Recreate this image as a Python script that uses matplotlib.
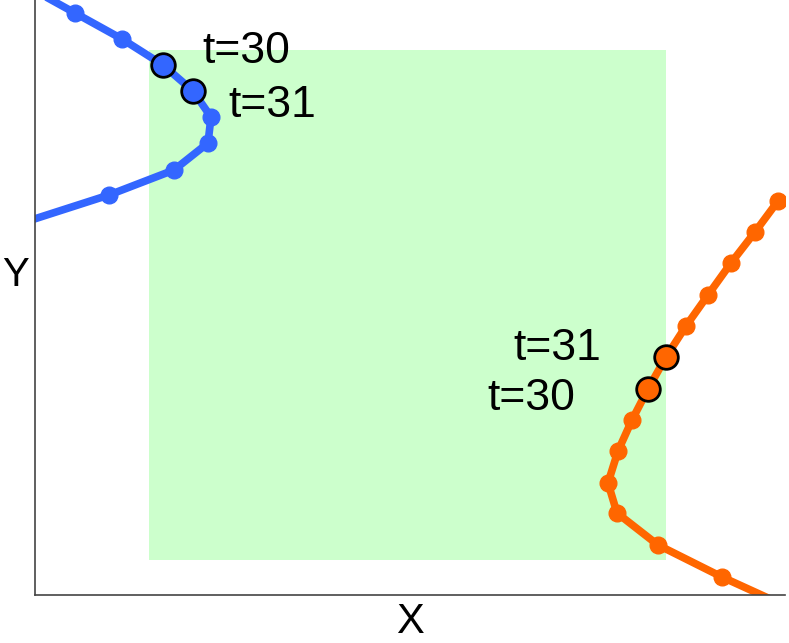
import numpy as np
import matplotlib.pyplot as plt

plt.rcParams['font.family'] = ['Liberation Sans', 'DejaVu Sans']

# trajectories (arbitrary units, x to the right, y up)
blue_x = [-7, 40, 87, 128, 158, 176, 173, 139, 74, -10]
blue_y = [608, 582, 556, 530, 504, 478, 452, 425, 400, 373]
orange_x = [743, 720, 696, 673, 651, 631, 613, 597, 583, 573, 582, 623, 687, 755]
orange_y = [394, 363, 332, 300, 269, 238, 206, 175, 144, 112, 82, 50, 18, -13]

# highlighted time steps: (index into the series, label)
blue_marks = [(3, 't=30'), (4, 't=31')]
orange_marks = [(6, 't=30'), (5, 't=31')]
blue_label_pos = [(167, 532), (193, 478)]
orange_label_pos = [(452, 185), (478, 235)]

# green region
rect_x = (114, 631)
rect_y = (35, 545)

blue = '#3366ff'
orange = '#ff6600'

fig = plt.figure(figsize=(7.89, 6.43), dpi=100)
ax = fig.add_axes([35 / 789, 48 / 643, 750 / 789, 595 / 643])

ax.fill_between(rect_x, rect_y[0], rect_y[1], color='#ccffcc', lw=0, zorder=0)

ax.plot(blue_x, blue_y, '-o', color=blue, lw=5.5, ms=12, zorder=2)
ax.plot(orange_x, orange_y, '-o', color=orange, lw=5.5, ms=12, zorder=2)

for (i, lab), (tx, ty) in zip(blue_marks, blue_label_pos):
    ax.plot(blue_x[i], blue_y[i], 'o', color=blue, ms=17, mec='black', mew=2, zorder=3)
    ax.text(tx, ty, lab, fontsize=32, ha='left', va='baseline')
for (i, lab), (tx, ty) in zip(orange_marks, orange_label_pos):
    ax.plot(orange_x[i], orange_y[i], 'o', color=orange, ms=17, mec='black', mew=2, zorder=3)
    ax.text(tx, ty, lab, fontsize=32, ha='left', va='baseline')

ax.set_xlim(0, 750)
ax.set_ylim(0, 595)
ax.set_xticks([])
ax.set_yticks([])
for s in ['top', 'right']:
    ax.spines[s].set_visible(False)
for s in ['left', 'bottom']:
    ax.spines[s].set_color('#444444')
    ax.spines[s].set_linewidth(1.2)

ax.set_xlabel('X', fontsize=30, labelpad=5)
ax.set_ylabel('Y', fontsize=29, rotation=0, ha='right', va='center')
ax.yaxis.set_label_coords(-0.008, 0.538)

fig.savefig('out.png', dpi=100)
